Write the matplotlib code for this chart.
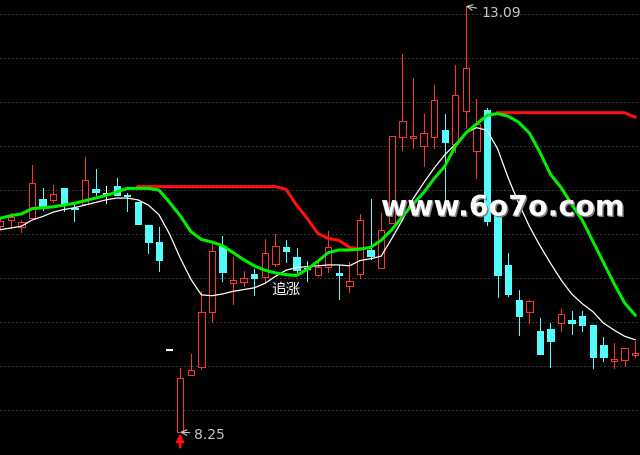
import matplotlib
matplotlib.use("Agg")
import matplotlib.pyplot as plt
import matplotlib.patheffects as pe
from matplotlib.patches import Rectangle
import numpy as np

plt.rcParams['font.family'] = ['Noto Sans CJK SC', 'DejaVu Sans']

# daily candles (price units)
opens  = [10.59, 10.66, 10.58, 10.68, 10.90, 10.89, 11.02, 10.80, 10.84, 11.01,
          10.96, 11.05, 10.94, 10.87, 10.60, 10.41, 9.18, 8.25, 8.90, 8.99,
          9.61, 10.36, 9.95, 9.96, 10.05, 10.01, 10.16, 10.35, 10.24, 10.11,
          10.04, 10.13, 10.06, 9.91, 10.05, 10.32, 10.11, 10.63, 11.60, 11.59,
          11.50, 11.60, 11.68, 11.52, 11.90, 11.45, 11.91, 10.72, 10.15, 9.75,
          9.61, 9.40, 9.42, 9.49, 9.52, 9.57, 9.47, 9.24, 9.06, 9.07, 9.13]
highs  = [10.67, 10.74, 10.66, 11.28, 11.02, 11.06, 11.02, 10.86, 11.38, 11.24,
          11.05, 11.14, 10.97, 10.87, 10.60, 10.58, 9.18, 8.98, 9.14, 9.85,
          10.41, 10.48, 10.24, 10.08, 10.10, 10.45, 10.50, 10.43, 10.34, 10.19,
          10.22, 10.53, 10.15, 10.18, 10.73, 10.90, 10.74, 11.62, 12.55, 12.27,
          11.87, 12.20, 11.87, 12.42, 13.09, 12.04, 11.93, 10.72, 10.29, 9.87,
          9.75, 9.55, 9.49, 9.65, 9.63, 9.63, 9.47, 9.33, 9.26, 9.21, 9.29]
lows   = [10.57, 10.57, 10.52, 10.68, 10.77, 10.86, 10.76, 10.65, 10.84, 10.94,
          10.85, 10.95, 10.76, 10.61, 10.29, 10.08, 9.18, 8.25, 8.90, 8.97,
          9.50, 9.97, 9.71, 9.91, 9.81, 9.95, 10.14, 10.18, 10.07, 9.97,
          10.02, 10.07, 9.76, 9.84, 10.00, 10.22, 10.11, 10.63, 11.46, 11.48,
          11.27, 11.48, 10.83, 11.43, 11.71, 11.14, 10.60, 9.78, 9.80, 9.35,
          9.49, 9.14, 8.99, 9.40, 9.37, 9.40, 8.98, 9.06, 8.98, 9.00, 9.10]
closes = [10.65, 10.69, 10.64, 11.08, 10.80, 10.96, 10.84, 10.78, 11.11, 10.98,
          10.96, 10.95, 10.93, 10.61, 10.41, 10.21, 9.18, 8.87, 8.96, 9.61,
          10.31, 10.07, 9.98, 10.00, 10.00, 10.28, 10.36, 10.31, 10.09, 10.10,
          10.13, 10.35, 10.04, 9.97, 10.66, 10.25, 10.55, 11.62, 11.78, 11.62,
          11.65, 12.02, 11.55, 12.08, 12.39, 11.75, 10.65, 10.03, 9.82, 9.57,
          9.74, 9.14, 9.28, 9.59, 9.49, 9.47, 9.10, 9.10, 9.08, 9.21, 9.15]

# indicator lines
lineWhite = [10.55, 10.57, 10.59, 10.66, 10.70, 10.75, 10.78, 10.80, 10.83, 10.86,
             10.89, 10.91, 10.91, 10.89, 10.83, 10.72, 10.50, 10.23, 9.99, 9.81,
             9.80, 9.82, 9.85, 9.87, 9.89, 9.94, 10.02, 10.09, 10.12, 10.13,
             10.14, 10.15, 10.15, 10.14, 10.20, 10.22, 10.25, 10.45, 10.66, 10.90,
             11.08, 11.25, 11.40, 11.52, 11.65, 11.71, 11.68, 11.47, 11.14, 10.85,
             10.59, 10.37, 10.17, 9.98, 9.82, 9.71, 9.62, 9.49, 9.41, 9.34, 9.30]
lineGreen = [10.68, 10.71, 10.73, 10.79, 10.80, 10.81, 10.83, 10.85, 10.88, 10.91,
             10.94, 10.98, 11.02, 11.02, 11.02, 11.00, 10.86, 10.71, 10.53, 10.44,
             10.41, 10.37, 10.29, 10.21, 10.14, 10.09, 10.06, 10.04, 10.03, 10.10,
             10.19, 10.29, 10.32, 10.32, 10.33, 10.35, 10.43, 10.55, 10.70, 10.84,
             10.97, 11.13, 11.27, 11.50, 11.65, 11.75, 11.85, 11.87, 11.84, 11.77,
             11.65, 11.43, 11.18, 11.03, 10.84, 10.66, 10.42, 10.18, 9.94, 9.72, 9.58]
nan = np.nan
lineRed = [nan] * 13 + [11.04] * 14 + [11.01, 10.83, 10.68, 10.51, 10.45, 10.43, 10.35, 10.33] \
          + [nan] * 12 + [11.88] * 13 + [11.83]

gridLevels = [13.0, 12.5, 12.0, 11.5, 11.0, 10.5, 10.0, 9.5, 9.0, 8.5]

RED = '#ff3232'
CYAN = '#54fcfc'
bw = 0.6
clw = 0.6  # candle outline width, about one pixel

fig = plt.figure(figsize=(6.4, 4.56), dpi=100, facecolor='black')
ax = fig.add_axes([0, 0, 1, 1])
ax.set_facecolor('black')
for s in ax.spines.values():
  s.set_visible(False)
ax.set_xticks([])
ax.set_yticks([])

for lv in gridLevels:
  ax.axhline(lv, color='#6a6a6a', lw=0.72, ls=(0, (1, 3)), zorder=0)

x = np.arange(len(opens))
for i in x:
  o, h, l, c = opens[i], highs[i], lows[i], closes[i]
  top, bot = max(o, c), min(o, c)
  if c > o:
    ax.vlines(i, top, h, color=RED, lw=clw, zorder=2, antialiased=False)
    ax.vlines(i, l, bot, color=RED, lw=clw, zorder=2, antialiased=False)
    ax.add_patch(Rectangle((i - bw / 2, bot), bw, top - bot, facecolor='black',
                           edgecolor=RED, lw=clw, zorder=2, antialiased=False))
  elif c < o:
    ax.vlines(i, l, h, color=CYAN, lw=clw, zorder=2, antialiased=False)
    ax.add_patch(Rectangle((i - bw / 2, bot), bw, top - bot, facecolor=CYAN,
                           edgecolor=CYAN, lw=clw, zorder=2, antialiased=False))
  else:
    ax.vlines(i, l, h, color='white', lw=clw, zorder=2, antialiased=False)
    ax.hlines(o, i - bw / 2, i + bw / 2, color='white', lw=1.2, zorder=2, antialiased=False)

ax.plot(x, lineWhite, color='white', lw=0.9, zorder=3)
ax.plot(x, lineRed, color='#ff1010', lw=2.2, zorder=3)
ax.plot(x, lineGreen, color='#00f000', lw=2.2, zorder=4)

# high / low markers
ax.annotate('13.09', xy=(44, 13.09), xytext=(45.43, 13.02), color='#c8c8c8',
            fontsize=10, family='DejaVu Sans', va='center', ha='left',
            arrowprops=dict(arrowstyle='->', color='#c8c8c8', lw=0.8,
                            shrinkA=1, shrinkB=0))
ax.annotate('8.25', xy=(17, 8.25), xytext=(18.31, 8.23), color='#c8c8c8',
            fontsize=10, family='DejaVu Sans', va='center', ha='left',
            arrowprops=dict(arrowstyle='->', color='#c8c8c8', lw=0.8,
                            shrinkA=1, shrinkB=0))
ax.annotate('', xy=(17, 8.235), xytext=(17, 8.08),
            arrowprops=dict(arrowstyle='-|>', color='#ff1010', lw=2,
                            mutation_scale=10, shrinkA=0, shrinkB=0))

ax.text(27.0, 9.877, '追涨', color='white', fontsize=10.5, ha='center', va='center', zorder=5)

ax.text(35.98, 10.71, 'www.6o7o.com', color='white', fontsize=20.5, fontweight='bold',
        family='DejaVu Sans', ha='left', va='baseline', zorder=6,
        path_effects=[pe.SimplePatchShadow(offset=(1, -1), shadow_rgbFace='#808080', alpha=1),
                      pe.Normal()])

ax.set_xlim(-0.028, 60.46)
ax.set_ylim(13.172 - 456 / 88, 13.172)

fig.savefig('out.png', dpi=100, facecolor='black')
